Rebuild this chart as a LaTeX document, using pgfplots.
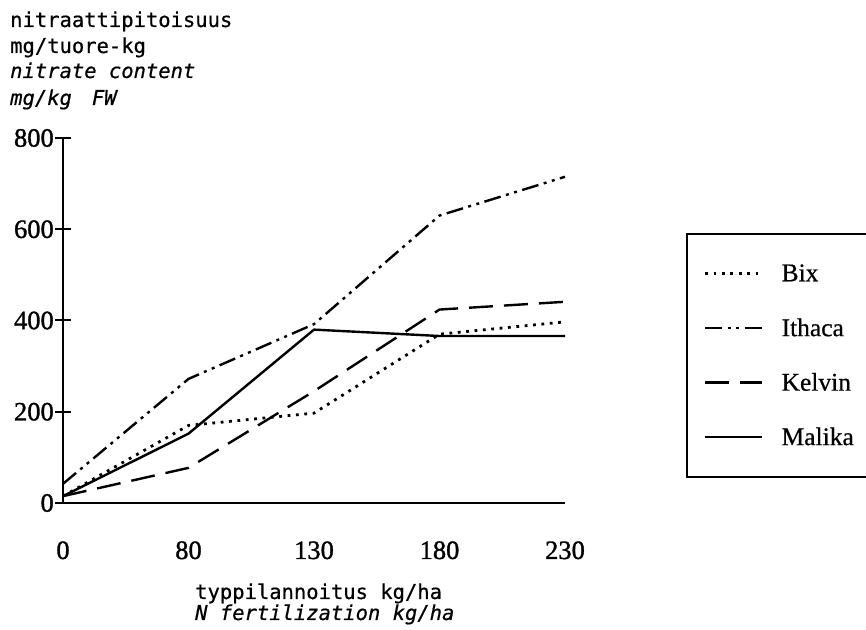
\documentclass[border=0pt]{standalone}
\usepackage{pgfplots}
\usepackage{pgfplotstable}
\pgfplotsset{compat=1.18}
\usepackage{fontspec}
\setmainfont{Liberation Serif}
\newfontfamily\typew[FakeBold=0.6]{DejaVu Sans Mono}
\newfontfamily\numfont[FakeBold=1.2]{Liberation Serif}

% nitrate content (mg/kg FW) at N levels 0, 80, 130, 180, 230 kg/ha
\pgfplotstableread{
n Bix Ithaca Kelvin Malika
0  15  42  15  15
1 170 272  77 152
2 197 392 245 380
3 370 630 424 366
4 397 715 441 366
}\nitrate

\begin{document}
\begin{tikzpicture}[x=1bp,y=1bp]
\useasboundingbox (0,0) rectangle (866,630);
\begin{axis}[
  at={(63bp,127bp)}, anchor=south west,
  scale only axis, width=502bp, height=365bp,
  xmin=0, xmax=4, ymin=0, ymax=800,
  axis lines=left,
  axis line style={-, line width=2.5bp, black},
  xtick={0,1,2,3,4}, xticklabels={0,80,130,180,230},
  ytick={0,200,400,600,800},
  tick align=center, major tick length=16bp,
  x tick style={draw=none},
  y tick style={line width=2bp, black},
  /pgf/number format/assume math mode=true,
  ticklabel style={font=\numfont\fontsize{26.5bp}{30bp}\selectfont},
  xticklabel style={anchor=base, inner sep=0pt, yshift=-48bp},
  yticklabel style={anchor=east, inner sep=0pt, xshift=-1bp},
  clip=false,
  legend style={at={(1.241,0.7397)}, anchor=north west,
    draw=black, line width=1.6bp,
    inner xsep=17bp, inner ysep=12.5bp, row sep=0pt, column sep=18bp,
    font=\fontsize{25.5bp}{30bp}\selectfont\addfontfeature{FakeBold=0.5},
    nodes={inner sep=0pt, minimum height=54.5bp}},
  legend cell align=left,
  legend image code/.code={\draw[#1] (0bp,0bp) -- (57bp,0bp);},
  every axis plot/.append style={black, line width=2.4bp, line cap=butt},
]
\addplot[dash pattern=on 2.8bp off 5.6bp, line width=2.8bp] table[x=n, y=Bix] {\nitrate};
\addlegendentry{\makebox[110bp][l]{Bix}}
\addplot[dash pattern=on 17bp off 5.5bp on 3bp off 5.5bp on 3bp off 5.5bp] table[x=n, y=Ithaca] {\nitrate};
\addlegendentry{\makebox[110bp][l]{Ithaca}}
\addplot[dash pattern=on 24bp off 11bp] table[x=n, y=Kelvin] {\nitrate};
\addlegendentry{\makebox[110bp][l]{Kelvin}}
\addplot[solid, line join=round] table[x=n, y=Malika] {\nitrate};
\addlegendentry{\makebox[110bp][l]{Malika}}
\end{axis}
\begin{scope}[every node/.style={anchor=base west, inner sep=0pt}]
\node[font=\typew\fontsize{20.5bp}{26bp}\selectfont] at (10,603) {nitraattipitoisuus};
\node[font=\typew\fontsize{20.5bp}{26bp}\selectfont] at (10,577) {mg/tuore-kg};
\node[font=\typew\itshape\fontsize{20.5bp}{26bp}\selectfont] at (10,552) {nitrate content};
\node[font=\typew\itshape\fontsize{20.5bp}{26bp}\selectfont] at (10,525) {mg/kg\hspace{20bp}FW};
\node[font=\typew\fontsize{20.5bp}{26bp}\selectfont] at (195,31) {typpilannoitus kg/ha};
\node[font=\typew\itshape\fontsize{20.5bp}{26bp}\selectfont] at (195,10) {N fertilization kg/ha};
\end{scope}
\end{tikzpicture}
\end{document}
